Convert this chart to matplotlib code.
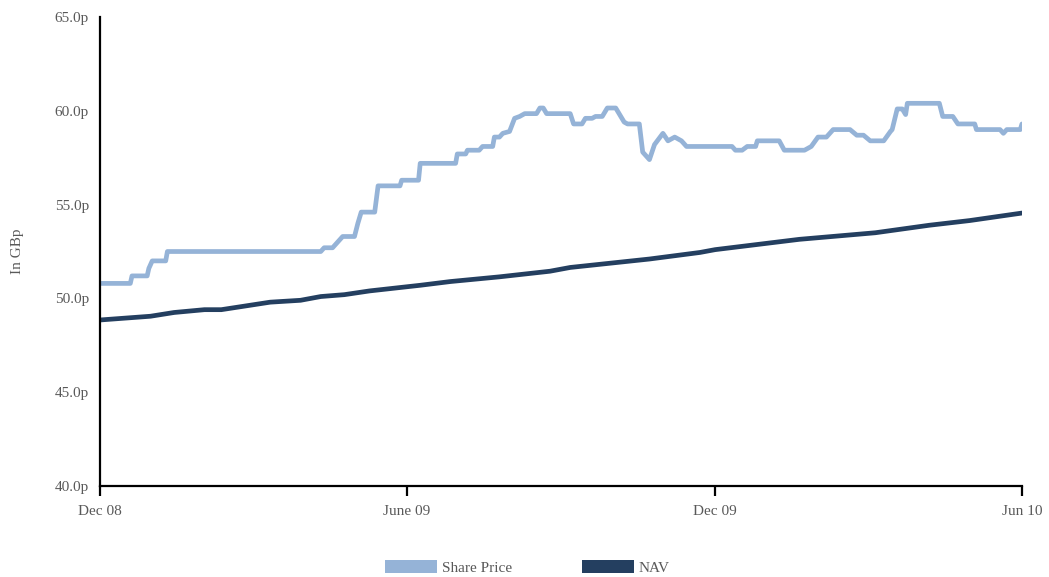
import datetime as dt

import matplotlib
matplotlib.use('Agg')
import matplotlib.dates as mdates
import matplotlib.pyplot as plt
import matplotlib.ticker as ticker
from matplotlib.patches import Patch


# Share price (pence)
share_dates = [
    '2008-12-01', '2008-12-19', '2008-12-20', '2008-12-29', '2008-12-30',
    '2009-01-01', '2009-01-09', '2009-01-10', '2009-04-11', '2009-04-13',
    '2009-04-18', '2009-04-21', '2009-04-24', '2009-05-01', '2009-05-03',
    '2009-05-05', '2009-05-13', '2009-05-15', '2009-05-28', '2009-05-29',
    '2009-06-08', '2009-06-09', '2009-06-30', '2009-07-01', '2009-07-06',
    '2009-07-07', '2009-07-14', '2009-07-16', '2009-07-22', '2009-07-23',
    '2009-07-26', '2009-07-28', '2009-08-01', '2009-08-04', '2009-08-07',
    '2009-08-10', '2009-08-17', '2009-08-19', '2009-08-21', '2009-08-23',
    '2009-09-06', '2009-09-08', '2009-09-13', '2009-09-15', '2009-09-19',
    '2009-09-21', '2009-09-25', '2009-09-28', '2009-10-03', '2009-10-06',
    '2009-10-08', '2009-10-10', '2009-10-17', '2009-10-19', '2009-10-23',
    '2009-10-26', '2009-10-31', '2009-11-03', '2009-11-07', '2009-11-11',
    '2009-11-14', '2009-12-11', '2009-12-13', '2009-12-17', '2009-12-20',
    '2009-12-25', '2009-12-26', '2010-01-08', '2010-01-11', '2010-01-23',
    '2010-01-27', '2010-01-31', '2010-02-05', '2010-02-09', '2010-02-19',
    '2010-02-23', '2010-02-27', '2010-03-03', '2010-03-11', '2010-03-15',
    '2010-03-16', '2010-03-19', '2010-03-22', '2010-03-24', '2010-03-25',
    '2010-04-13', '2010-04-15', '2010-04-21', '2010-04-24', '2010-05-04',
    '2010-05-05', '2010-05-19', '2010-05-21', '2010-05-23', '2010-05-31',
    '2010-06-01',
]
share_price = [
    50.8, 50.8, 51.2, 51.2, 51.6,
    52.0, 52.0, 52.5, 52.5, 52.7,
    52.7, 53.0, 53.3, 53.3, 54.0,
    54.6, 54.6, 56.0, 56.0, 56.3,
    56.3, 57.2, 57.2, 57.7, 57.7,
    57.9, 57.9, 58.1, 58.1, 58.6,
    58.6, 58.8, 58.9, 59.6, 59.7,
    59.85, 59.85, 60.15, 60.15, 59.85,
    59.85, 59.3, 59.3, 59.6, 59.6,
    59.7, 59.7, 60.15, 60.15, 59.7,
    59.4, 59.3, 59.3, 57.8, 57.4,
    58.2, 58.8, 58.4, 58.6, 58.4,
    58.1, 58.1, 57.9, 57.9, 58.1,
    58.1, 58.4, 58.4, 57.9, 57.9,
    58.1, 58.6, 58.6, 59.0, 59.0,
    58.7, 58.7, 58.4, 58.4, 58.9,
    59.0, 60.1, 60.1, 59.8, 60.4,
    60.4, 59.7, 59.7, 59.3, 59.3,
    59.0, 59.0, 58.8, 59.0, 59.0,
    59.3,
]

# NAV (pence)
nav_dates = [
    '2008-12-01', '2008-12-31', '2009-01-14', '2009-02-01', '2009-02-11',
    '2009-03-12', '2009-03-30', '2009-04-11', '2009-04-25', '2009-05-10',
    '2009-06-09', '2009-06-27', '2009-07-26', '2009-08-25', '2009-09-06',
    '2009-10-23', '2009-11-22', '2009-12-01', '2010-01-20', '2010-03-06',
    '2010-04-07', '2010-05-01', '2010-06-01',
]
nav = [
    48.85, 49.05, 49.25, 49.4, 49.4,
    49.8, 49.9, 50.1, 50.2, 50.4,
    50.7, 50.9, 51.15, 51.45, 51.65,
    52.1, 52.45, 52.6, 53.15, 53.5,
    53.9, 54.15, 54.55,
]

tick_dates = ['2008-12-01', '2009-06-01', '2009-12-01', '2010-06-01']
tick_labels = ['Dec 08', 'June 09', 'Dec 09', 'Jun 10']

share_color = '#95b3d7'
nav_color = '#243f60'
text_color = '#595959'


def to_dates(values):
    return [dt.datetime.strptime(v, '%Y-%m-%d') for v in values]


plt.rcParams['font.family'] = ['Liberation Serif', 'DejaVu Serif']

fig = plt.figure(figsize=(10.49, 5.77), dpi=100)
ax = fig.add_axes([0.0953, 0.1577, 0.8789, 0.8128])

ax.plot(to_dates(share_dates), share_price, color=share_color,
        linewidth=3.4, solid_joinstyle='round', solid_capstyle='round')
ax.plot(to_dates(nav_dates), nav, color=nav_color,
        linewidth=3.4, solid_joinstyle='round', solid_capstyle='round')

ax.set_xlim(to_dates(tick_dates)[0], to_dates(tick_dates)[-1])
ax.set_ylim(40, 65)

ax.set_xticks(mdates.date2num(to_dates(tick_dates)))
ax.set_xticklabels(tick_labels)
ax.yaxis.set_major_locator(ticker.MultipleLocator(5))
ax.yaxis.set_major_formatter(ticker.FuncFormatter(lambda v, pos: '{0:.1f}p'.format(v)))

for side in ('top', 'right'):
    ax.spines[side].set_visible(False)
for side in ('left', 'bottom'):
    ax.spines[side].set_linewidth(1.6)
    ax.spines[side].set_color('black')

ax.tick_params(axis='x', direction='out', length=7, width=1.6,
               labelsize=11, labelcolor=text_color, pad=7)
ax.tick_params(axis='y', length=0, labelsize=11, labelcolor=text_color, pad=8)

ax.set_ylabel('In GBp', fontsize=11, color=text_color, labelpad=22)

handles = [Patch(facecolor=share_color, label='Share Price'),
           Patch(facecolor=nav_color, label='NAV')]
fig.legend(handles=handles, loc='lower center', ncol=2, frameon=False,
           bbox_to_anchor=(0.503, -0.02), fontsize=11, handlelength=3.4,
           handleheight=0.95, handletextpad=0.3, columnspacing=4.6,
           labelcolor=text_color)

fig.savefig('out.png', dpi=100)
